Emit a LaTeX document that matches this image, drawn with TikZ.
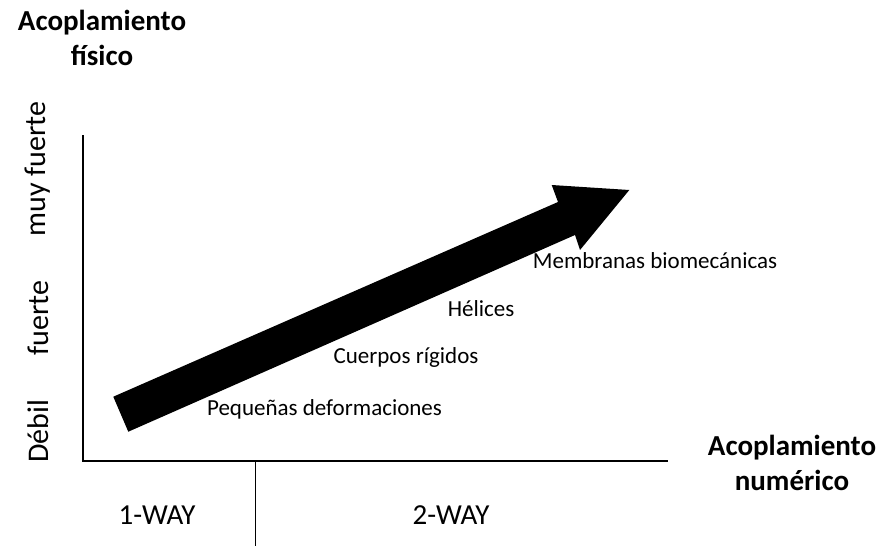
\documentclass[tikz,border=0pt]{standalone}
\usepackage{fontspec}
\setmainfont{Carlito}
\begin{document}
\begin{tikzpicture}[x=1pt,y=-1pt,line width=2pt]
\useasboundingbox (0,0) rectangle (887,546);
\tikzset{titulo/.style={font=\bfseries\fontsize{29}{35}\selectfont,align=center},
  nivel/.style={font=\fontsize{30}{36}\selectfont,rotate=90},
  via/.style={font=\fontsize{29}{35}\selectfont},
  caso/.style={font=\fontsize{23}{28}\selectfont}}
% ejes
\draw (82.5,135)--(82.5,460.5)--(668,460.5);
\draw[line width=1pt] (255,460.5)--(255,546);
% flecha
\fill (113.3,396.7)--(558,202)--(551.7,185)--(629.3,190)--(580,250)--(575,235)--(128.3,431.7)--cycle;
\node[titulo] (fis) at (102,38) {Acoplamiento\\físico};
\node[titulo] (num) at (792,463) {Acoplamiento\\numérico};
\node[nivel] (muy) at (38,169) {muy fuerte};
\node[nivel] (fue) at (38,318) {fuerte};
\node[nivel] (deb) at (38,431) {Débil};
\node[via] (uno) at (157,515) {1-WAY};
\node[via] (dos) at (451,515) {2-WAY};
\node[caso] (peq) at (324.5,409) {Pequeñas deformaciones};
\node[caso] (cue) at (406,357) {Cuerpos rígidos};
\node[caso] (hel) at (481,309) {Hélices};
\node[caso] (mem) at (655,261) {Membranas biomecánicas};
\end{tikzpicture}
\end{document}
